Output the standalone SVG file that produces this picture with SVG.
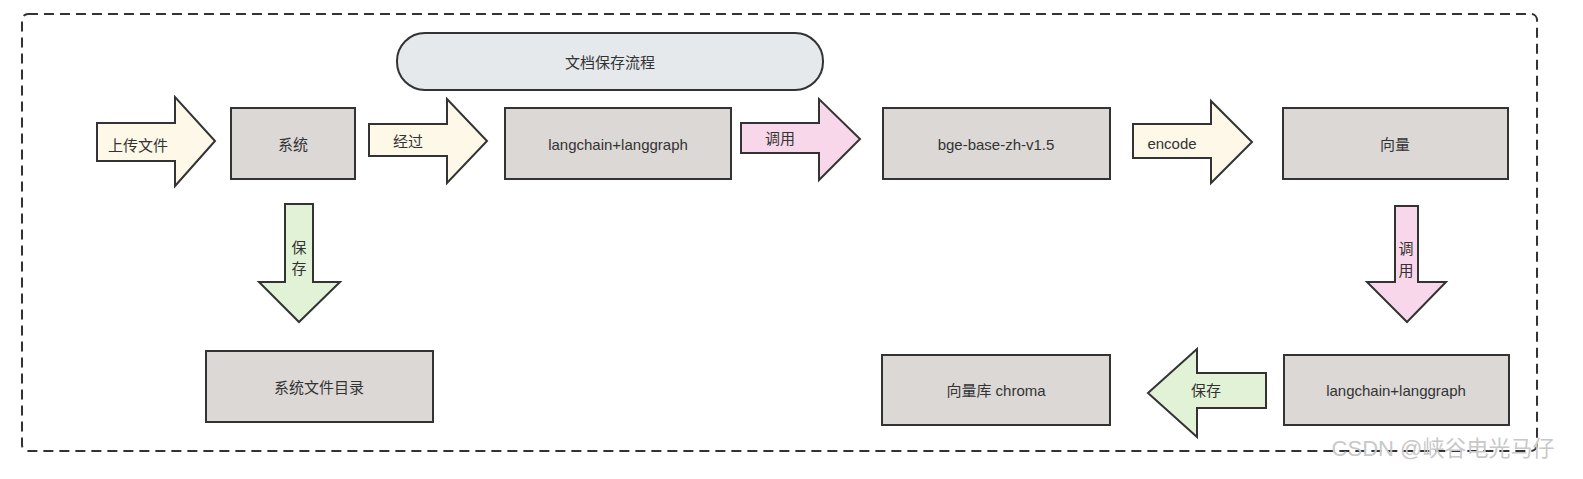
<svg xmlns="http://www.w3.org/2000/svg" width="1583" height="479" viewBox="0 0 1583 479">
<style>
text{font-family:"Liberation Sans","Noto Sans CJK SC",sans-serif;font-size:15px;fill:#333;text-anchor:middle;dominant-baseline:central}
.n{fill:#dcd8d6;stroke:#333;stroke-width:2}
.y{fill:#fdf8e8;stroke:#333;stroke-width:2}
.p{fill:#f8d7ea;stroke:#333;stroke-width:2}
.g{fill:#e1f2d7;stroke:#333;stroke-width:2}
</style>
<rect width="1583" height="479" fill="#fff"/>
<rect x="22" y="14" width="1515" height="437" rx="6" fill="none" stroke="#333" stroke-width="2" stroke-dasharray="10,6"/>
<g id="title"><rect x="397" y="33" width="426" height="57" rx="28" fill="#e5e9ec" stroke="#333" stroke-width="2"/><text x="610" y="62">文档保存流程</text></g>
<g id="n1"><rect class="n" x="231" y="108" width="124" height="71"/><text x="293" y="144">系统</text></g>
<g id="n2"><rect class="n" x="505" y="108" width="226" height="71"/><text x="618" y="144">langchain+langgraph</text></g>
<g id="n3"><rect class="n" x="883" y="108" width="227" height="71"/><text x="996" y="144">bge-base-zh-v1.5</text></g>
<g id="n4"><rect class="n" x="1283" y="108" width="225" height="71"/><text x="1395" y="144">向量</text></g>
<g id="n5"><rect class="n" x="206" y="351" width="227" height="71"/><text x="319" y="387">系统文件目录</text></g>
<g id="n6"><rect class="n" x="882" y="355" width="228" height="70"/><text x="996" y="390">向量库 chroma</text></g>
<g id="n7"><rect class="n" x="1284" y="355" width="225" height="70"/><text x="1396" y="390">langchain+langgraph</text></g>
<g id="connectors">
<path class="y" d="M97,123H175V97L215,141L175,186V161H97Z"/><text x="138" y="145">上传文件</text>
<path class="y" d="M369,124H447V99L487,141L447,183V156H369Z"/><text x="408" y="141">经过</text>
<path class="p" d="M741,123H819V99L860,139L819,180V153H741Z"/><text x="780" y="138">调用</text>
<path class="y" d="M1133,124H1211V101L1252,142L1211,183V158H1133Z"/><text x="1172" y="143">encode</text>
<path class="g" d="M285,204H313V282H340L299,322L259,282H285Z"/><text x="299" y="247">保</text><text x="299" y="268">存</text>
<path class="p" d="M1395,206H1418V282H1446L1407,322L1367,282H1395Z"/><text x="1406" y="248">调</text><text x="1406" y="270">用</text>
<path class="g" d="M1266,373V408H1197V437L1148,393L1197,349V373Z"/><text x="1206" y="390">保存</text>
</g>
<text x="1443" y="448" style="font-size:22px;fill:#c8c8c8">CSDN @峡谷电光马仔</text>
</svg>
